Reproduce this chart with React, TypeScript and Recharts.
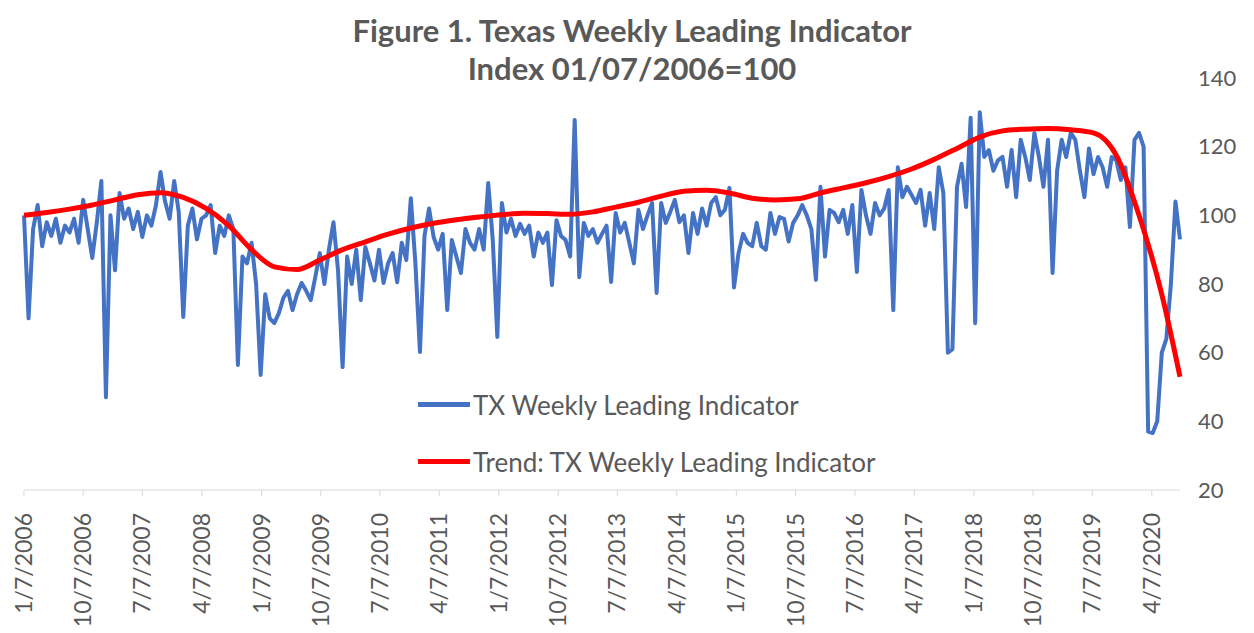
import React from 'react';
import { LineChart, Line, XAxis, YAxis, Legend } from 'recharts';

// weekly series sampled every 3 weeks, starting 1/7/2006
const START = Date.UTC(2006, 0, 7);
const STEP_DAYS = 21;

const txWeekly = [
  100, 70, 96, 103, 91, 98, 94, 99, 92, 97,
  95, 99, 92, 104.5, 96, 87.6, 98, 110, 47, 100,
  84, 106.5, 99, 102, 96, 101, 93.7, 100, 97, 103,
  112.6, 104, 99, 110, 101, 70.4, 97, 102, 93, 99,
  100, 103, 89, 97, 94, 100, 96, 56.4, 88, 86,
  92, 80, 53.5, 77, 70, 68.6, 71.5, 76, 78, 72.4,
  77, 80.3, 78, 75.3, 82, 89, 80, 90, 98, 84,
  55.8, 88, 80, 90, 75.3, 90.8, 86, 81, 90, 80.3,
  86, 89, 80.5, 92, 87, 105, 86, 60.2, 94, 102,
  93.7, 90, 94.6, 72.4, 92.8, 88, 83.2, 96, 92, 90,
  96, 90, 109.4, 92.8, 64.6, 103.6, 95, 99, 94, 97.5,
  94.6, 97, 88, 95, 92, 95, 79.7, 98.6, 94, 92.8,
  88, 127.8, 82, 97.8, 94, 96, 92, 94.6, 97, 80.6,
  100.7, 95, 97.8, 92, 86, 101.6, 96, 100, 103.6, 77.4,
  103.6, 97.8, 101, 104.5, 98, 100, 89, 100.7, 94.6, 102,
  97, 103.6, 105.3, 100, 101.6, 108, 79, 89, 94.6, 92,
  91, 97.8, 91, 90, 100.7, 94.6, 99.5, 99, 92.4, 97.8,
  100, 103, 100, 96, 81.2, 108.3, 88, 101.6, 100.7, 98,
  101.6, 94.6, 103, 83.5, 107.4, 100, 94.6, 103.6, 100, 102,
  107.4, 72.4, 114, 105.3, 108.3, 106, 103.6, 107.4, 97, 106.5,
  96, 114, 106.5, 60, 61, 108.3, 115, 102.4, 128.4, 68.6,
  130, 117, 119, 113, 116, 117, 108.3, 119, 105.3, 122,
  117, 110.3, 124, 117, 108.3, 122, 83.2, 113, 122, 117,
  124, 122, 113, 105.3, 119.5, 112, 117, 114, 108.3, 117,
  116, 110.3, 114, 96.6, 122, 124, 120, 37, 36.6, 40,
  60, 64, 80, 104, 93,
];

// trend read every 5th sample (last value at the final sample)
const TREND_EVERY = 5;
const trend = [
  100, 100.8, 101.8, 103, 104.5, 106, 106.6, 105.2, 102, 97,
  90, 85, 84.2, 87, 90, 92.3, 94.5, 96.3, 97.7, 98.7,
  99.5, 100.2, 100.6, 100.5, 100.3, 101, 102.4, 103.8, 105.6, 107,
  107.3, 106.5, 105, 104.5, 104.8, 106.5, 108, 109.5, 111.3, 113.5,
  116.3, 119.5, 122.8, 124.6, 125.1, 125.3, 124.9, 124, 117.5, 100,
  77, 53,
];

const tickLabels = [
  '1/7/2006', '10/7/2006', '7/7/2007', '4/7/2008', '1/7/2009', '10/7/2009',
  '7/7/2010', '4/7/2011', '1/7/2012', '10/7/2012', '7/7/2013', '4/7/2014',
  '1/7/2015', '10/7/2015', '7/7/2016', '4/7/2017', '1/7/2018', '10/7/2018',
  '7/7/2019', '4/7/2020',
];

const yTicks = [20, 40, 60, 80, 100, 120, 140];

const legendItems = [
  { label: 'TX Weekly Leading Indicator', color: '#4472C4' },
  { label: 'Trend: TX Weekly Leading Indicator', color: '#FF0000' },
];

const FONT = 'Lato, "Open Sans", sans-serif';
const GRAY = '#595959';

const toDay = (label: string) => {
  const [m, d, y] = label.split('/').map(Number);
  return Math.round((Date.UTC(y, m - 1, d) - START) / 86400000);
};

const last = txWeekly.length - 1;
const data = txWeekly.map((v, i) => ({ day: i * STEP_DAYS, tx: v, trend: null as number | null }));
trend.forEach((v, k) => {
  data[Math.min(k * TREND_EVERY, last)].trend = v;
});

const xTicks = tickLabels.map(toDay);
const labelByDay: Record<number, string> = {};
tickLabels.forEach((l) => { labelByDay[toDay(l)] = l; });

const DateTick = (props: any) => {
  const { x, y, payload } = props;
  return (
    <g transform={`translate(${x},${y})`}>
      <text transform="rotate(-90)" x={-17} y={0} dy={8} textAnchor="end" fill={GRAY} fontSize={23} fontFamily={FONT}>
        {labelByDay[payload.value]}
      </text>
    </g>
  );
};

const LegendBox = () => (
  <div style={{ fontFamily: FONT, fontSize: 26, color: GRAY }}>
    {legendItems.map((item) => (
      <div key={item.label} style={{ display: 'flex', alignItems: 'center', height: 57 }}>
        <span style={{ display: 'inline-block', width: 52, height: 5, background: item.color, marginRight: 3 }} />
        <span>{item.label}</span>
      </div>
    ))}
  </div>
);

export default function App() {
  return (
    <div style={{ position: 'absolute', left: 0, top: 0, width: 1254, height: 633, background: '#fff' }}>
      <LineChart width={1254} height={633} data={data} margin={{ top: 78, right: 0, left: 24, bottom: 0 }}>
        <XAxis
          dataKey="day"
          type="number"
          domain={[0, last * STEP_DAYS]}
          ticks={xTicks}
          interval={0}
          height={143}
          tick={<DateTick />}
          tickSize={6}
          tickMargin={0}
          axisLine={{ stroke: '#D9D9D9' }}
          tickLine={{ stroke: '#D9D9D9' }}
        />
        <YAxis
          orientation="right"
          width={74}
          domain={[20, 140]}
          ticks={yTicks}
          axisLine={false}
          tickLine={false}
          tickSize={0}
          tickMargin={18}
          tick={{ fill: GRAY, fontSize: 22, fontFamily: FONT }}
        />
        <Legend
          layout="horizontal"
          verticalAlign="middle"
          align="center"
          content={<LegendBox />}
          wrapperStyle={{ left: 418, top: 376, width: 520, bottom: 'auto' }}
        />
        <Line
          dataKey="tx"
          name="TX Weekly Leading Indicator"
          type="linear"
          stroke="#4472C4"
          strokeWidth={4}
          strokeLinejoin="round"
          dot={false}
          isAnimationActive={false}
        />
        <Line
          dataKey="trend"
          name="Trend: TX Weekly Leading Indicator"
          type="monotone"
          stroke="#FF0000"
          strokeWidth={5}
          dot={false}
          connectNulls
          isAnimationActive={false}
        />
      </LineChart>
      <svg width={1254} height={100} style={{ position: 'absolute', left: 0, top: 0, pointerEvents: 'none' }}>
        <text x={632} y={42} textAnchor="middle" fontFamily={FONT} fontWeight={700} fontSize={31} fill={GRAY}>
          Figure 1. Texas Weekly Leading Indicator
        </text>
        <text x={632} y={80} textAnchor="middle" fontFamily={FONT} fontWeight={700} fontSize={31} fill={GRAY}>
          Index 01/07/2006=100
        </text>
      </svg>
    </div>
  );
}
